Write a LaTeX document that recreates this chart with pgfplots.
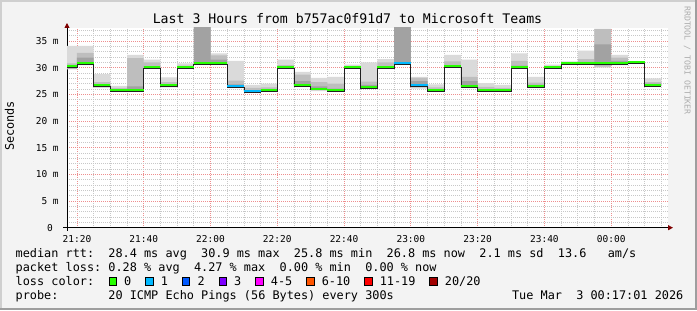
\documentclass[border=0pt]{standalone}
\usepackage{pgfplots}
\pgfplotsset{compat=1.18}
\usepackage{pgfplotstable}
\usepgfplotslibrary{fillbetween}
\usetikzlibrary{arrows.meta}
\usepackage{fontspec}
\setmainfont{DejaVu Sans Mono}
\newfontfamily\mono{DejaVu Sans Mono}
\newcommand\legfont{\mono\fontsize{11.85bp}{13bp}\selectfont}
\newcommand\titfont{\mono\fontsize{13.2bp}{15bp}\selectfont}
\newcommand\axfont{\mono\fontsize{9.5bp}{11bp}\selectfont}
\newcommand\wmfont{\mono\fontsize{8.2bp}{9bp}\selectfont}
\definecolor{bg}{HTML}{F3F3F3}
\definecolor{shadea}{HTML}{CFCFCF}
\definecolor{shadeb}{HTML}{9E9E9E}
\definecolor{mgrid}{HTML}{EE8E8E}
\definecolor{mingrid}{HTML}{C8C8C8}
\definecolor{arrowred}{HTML}{7F0000}
\definecolor{smokeL}{HTML}{DADADA}
\definecolor{smokeM}{HTML}{BEBEBE}
\definecolor{smokeD}{HTML}{A2A2A2}
\definecolor{medline}{HTML}{202020}
\definecolor{lc0}{HTML}{26FF00}
\definecolor{lc1}{HTML}{00B8FF}
\definecolor{lc2}{HTML}{0059FF}
\definecolor{lc3}{HTML}{7E00FF}
\definecolor{lc4}{HTML}{FF00FF}
\definecolor{lc6}{HTML}{FF5500}
\definecolor{lc11}{HTML}{FF0000}
\definecolor{lc20}{HTML}{A10000}

\pgfplotstableread{
t     llo  lhi  mlo  mhi  dlo   dhi   med
17.02 29.7 34.1 29.8 30.8 29.9  30.3  30.25
20    30.5 34.1 30.7 32.8 30.8  31.9  30.9
25    26.2 28.8 26.4 27.3 26.6  26.9  26.75
30    25.6 26.6 25.7 26.2 25.8  25.95 25.9
35    25.6 32.4 25.8 31.8 25.9  26.5  25.9
40    29.8 31.5 29.9 31.0 30.0  30.3  30.1
45    26.3 28.2 26.5 27.3 26.6  26.9  26.75
50    29.8 30.8 29.9 30.4 30.0  30.15 30.1
55    30.6 45   30.7 45   30.8  45    30.9
60    30.6 32.7 30.7 32.3 30.8  31.5  30.9
65    26.3 31.3 26.4 27.6 26.5  26.9  26.6
70    25.5 26.8 25.6 26.2 25.65 25.8  25.7
75    25.5 27.0 25.7 26.3 25.8  26.0  25.85
80    29.8 31.5 29.9 30.5 30.0  30.2  30.06
85    26.4 29.2 26.6 28.7 26.7  27.5  26.8
90    25.6 28.1 25.8 27.3 25.9  26.5  26.1
95    25.5 28.3 25.7 27.0 25.8  26.1  25.85
100   29.8 30.6 29.9 30.3 30.0  30.15 30.06
105   26.2 31.0 26.3 27.4 26.4  26.8  26.45
110   29.8 31.6 29.9 31.0 30.0  30.3  30.06
115   30.6 45   30.7 45   30.8  45    30.85
120   26.1 28.3 26.3 28.1 26.4  27.5  26.7
125   25.5 26.9 25.6 26.3 25.7  25.9  25.8
130   30.0 32.4 30.1 31.2 30.2  30.5  30.25
135   26.2 31.5 26.4 28.3 26.5  27.5  26.6
140   25.6 27.1 25.7 26.4 25.8  26.0  25.9
145   25.6 26.8 25.7 26.2 25.8  25.95 25.9
150   29.8 32.7 30.0 31.3 30.0  30.4  30.06
155   26.3 28.3 26.4 27.2 26.5  26.8  26.6
160   29.8 30.6 29.9 30.3 30.0  30.15 30.06
165   30.7 31.2 30.8 31.05 30.85 30.95 30.9
170   30.6 33.2 30.8 31.6 30.85 31.1  30.9
175   30.0 37.3 30.2 37.3 30.5  34.4  30.9
180   30.5 32.4 30.7 31.9 30.8  31.3  30.9
185   30.8 31.1 30.9 31.05 30.95 31.0  31.0
190   26.5 28.0 26.6 27.3 26.7  27.0  26.8
195   26.5 28.0 26.6 27.3 26.7  27.0  26.8
}\smoke

\begin{document}
\begin{tikzpicture}
\pgfplotsset{set layers}
\begin{pgfonlayer}{axis background}
\begin{scope}[x=1bp,y=1bp]
\fill[bg] (0,0) rectangle (697,310);
% 3D frame
\fill[shadea] (0,308) rectangle (697,310);
\fill[shadea] (0,0) rectangle (2,310);
\fill[shadeb] (0,0) rectangle (697,2.5);
\fill[shadeb] (694.5,0) rectangle (697,310);
\end{scope}
\end{pgfonlayer}

\begin{axis}[
  at={(67bp,82.3bp)}, anchor=south west,
  scale only axis, width=601bp, height=199.7bp,
  xmin=17.02, xmax=197.02, ymin=0, ymax=37.45,
  axis background/.style={fill=white},
  axis lines=left,
  axis line style={black, line width=0.9bp},
  x axis line style={-{Triangle[length=5bp,width=5bp,color=arrowred]}, shorten >=-5bp, shorten <=-4bp},
  y axis line style={-{Triangle[length=5bp,width=5bp,color=arrowred]}, shorten >=-5bp, shorten <=-3bp},
  xtick={20,40,...,180},
  xticklabels={21:20,21:40,22:00,22:20,22:40,23:00,23:20,23:40,00:00},
  minor xtick={20,25,...,195},
  ytick={0,5,...,35},
  yticklabels={{0~~},{5~m},{10~m},{15~m},{20~m},{25~m},{30~m},{35~m}},
  minor ytick={1,2,...,37},
  grid=both,
  major grid style={draw=mgrid, dash pattern=on 1bp off 1bp, line width=0.7bp},
  minor grid style={draw=mingrid, dash pattern=on 1bp off 1bp, line width=0.7bp},
  tick style={draw=none},
  xticklabel style={font=\axfont, anchor=base, inner sep=0pt, yshift=-13bp},
  yticklabel style={font=\axfont, anchor=east, inner sep=0pt, xshift=-6bp},
  clip=true,
]
\addplot[draw=none, name path=llo, const plot mark left, forget plot] table[x=t,y=llo]{\smoke};
\addplot[draw=none, name path=lhi, const plot mark left, forget plot] table[x=t,y=lhi]{\smoke};
\addplot[draw=none, name path=mlo, const plot mark left, forget plot] table[x=t,y=mlo]{\smoke};
\addplot[draw=none, name path=mhi, const plot mark left, forget plot] table[x=t,y=mhi]{\smoke};
\addplot[draw=none, name path=dlo, const plot mark left, forget plot] table[x=t,y=dlo]{\smoke};
\addplot[draw=none, name path=dhi, const plot mark left, forget plot] table[x=t,y=dhi]{\smoke};
\addplot[fill=smokeL, draw=none] fill between[of=lhi and llo];
\addplot[fill=smokeM, draw=none] fill between[of=mhi and mlo];
\addplot[fill=smokeD, draw=none] fill between[of=dhi and dlo];
% median line
\addplot[medline, line width=0.8bp, const plot mark left, mark=none] table[x=t, y expr=\thisrow{med}-0.25]{\smoke};
\addplot[lc0, line width=2bp, jump mark left, mark=none] table[x=t, y=med]{\smoke};
\addplot[lc1, line width=2bp, jump mark left, mark=none] coordinates {(65,26.6) (70,25.7) (75,25.7)};
\addplot[lc1, line width=2bp, jump mark left, mark=none] coordinates {(115,30.85) (120,26.7) (125,26.7)};
\end{axis}

\begin{scope}[x=1bp,y=1bp]
% title
\node[anchor=base, inner sep=0pt] at (347.5,286.7) {\titfont Last~3~Hours~from~b757ac0f91d7~to~Microsoft~Teams};
% y label
\node[rotate=90, inner sep=0pt] at (9.5,184) {\legfont Seconds};
% watermark
\node[rotate=-90, anchor=base west, inner sep=0pt, text=black!32] at (684.5,304) {\wmfont RRDTOOL~/~TOBI~OETIKER};

% legend lines
\node[anchor=base west, inner sep=0pt] at (15.5,52.7) {\legfont median~rtt:~~28.4~ms~avg~~30.9~ms~max~~25.8~ms~min~~26.8~ms~now~~2.1~ms~sd~~13.6~~~am/s};
\node[anchor=base west, inner sep=0pt] at (15.5,38.5) {\legfont packet~loss:~0.28~\%~avg~~4.27~\%~max~~0.00~\%~min~~0.00~\%~now};
\node[anchor=base west, inner sep=0pt] at (15.5,24.5) {\legfont loss~color:};
\node[anchor=base west, inner sep=0pt] at (15.5,10.3) {\legfont probe:~~~~~~~20~ICMP~Echo~Pings~(56~Bytes)~every~300s};
\node[anchor=base east, inner sep=0pt] at (683.5,10.3) {\legfont Tue~Mar~~3~00:17:01~2026};

% loss colour keys
\foreach \bx/\col/\lab in {109/lc0/0, 145.7/lc1/1, 182.3/lc2/2, 219/lc3/3, 255.7/lc4/4-5, 306.6/lc6/6-10, 364.6/lc11/11-19, 429.7/lc20/20\slash 20}{
  \filldraw[fill=\col, draw=black, line width=0.5bp] (\bx,24.9) rectangle ++(7.4,8.2);
  \node[anchor=base west, inner sep=0pt] at (\bx+15,24.5) {\legfont \lab};
}
\pgfresetboundingbox
\path[use as bounding box] (0,0) rectangle (697,310);
\end{scope}
\end{tikzpicture}
\end{document}
